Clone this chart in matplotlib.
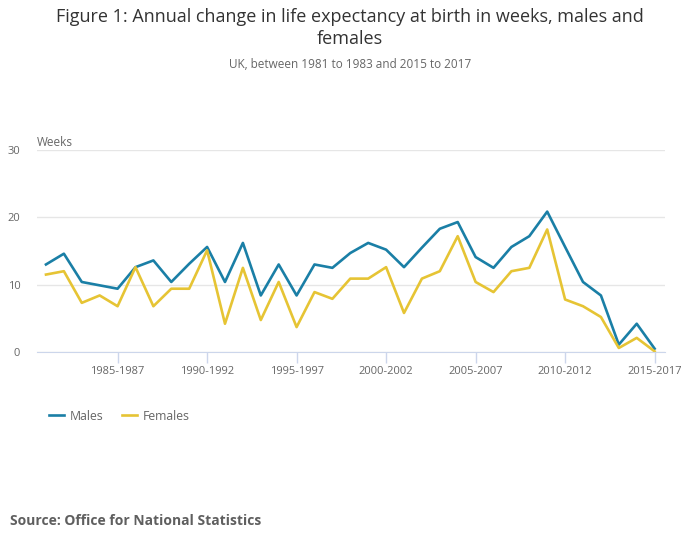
import matplotlib
matplotlib.use("Agg")
import matplotlib.pyplot as plt
import numpy as np

plt.rcParams['font.family'] = ['Open Sans', 'DejaVu Sans']

periods = [f"{y}-{y + 2}" for y in range(1981, 2016)]
males = [13.0, 14.6, 10.4, 9.9, 9.4, 12.6, 13.6, 10.4, 13.1, 15.6, 10.4, 16.2,
         8.4, 13.0, 8.4, 13.0, 12.5, 14.7, 16.2, 15.2, 12.6, 15.5, 18.3,
         19.3, 14.1, 12.5, 15.6, 17.2, 20.85, 15.6, 10.4, 8.4, 1.1, 4.2, 0.5]
females = [11.5, 12.0, 7.3, 8.4, 6.8, 12.6, 6.8, 9.4, 9.4, 15.1, 4.2, 12.5,
           4.75, 10.4, 3.7, 8.9, 7.9, 10.9, 10.9, 12.6, 5.8, 10.9, 12.0,
           17.2, 10.4, 8.9, 12.0, 12.5, 18.2, 7.8, 6.8, 5.2, 0.6, 2.1, 0.1]
tick_labels = ["1985-1987", "1990-1992", "1995-1997", "2000-2002", "2005-2007",
               "2010-2012", "2015-2017"]

male_colour = "#1a7fa6"
female_colour = "#e6c434"
grey = "#666666"

fig = plt.figure(figsize=(7, 5.49), dpi=100)
ax = fig.add_axes([0.0529, 0.3588, 0.8971, 0.368])

x = np.arange(len(periods))
ax.plot(x, males, color=male_colour, lw=1.9, label="Males")
ax.plot(x, females, color=female_colour, lw=1.9, label="Females")

ax.set_xlim(-0.5, len(periods) - 0.42)
ax.set_ylim(0, 30)
ax.set_yticks([0, 10, 20, 30])
ax.grid(axis="y", color="#e6e6e6", lw=1)
ax.set_axisbelow(True)

ticks = [periods.index(t) for t in tick_labels]
ax.set_xticks(ticks)
ax.set_xticklabels(tick_labels)
ax.tick_params(axis="x", colors="#ccd6eb", length=8, width=1, labelcolor=grey,
               labelsize=8, pad=2)
ax.tick_params(axis="y", length=0, labelcolor=grey, labelsize=8, pad=12)

for s in ["top", "right", "left"]:
    ax.spines[s].set_visible(False)
ax.spines["bottom"].set_color("#ccd6eb")

fig.text(37 / 700, 1 - 142 / 549, "Weeks", fontsize=8.5, color=grey, va="center")

fig.text(0.5, 1 - 17 / 549, "Figure 1: Annual change in life expectancy at birth in weeks, males and",
         ha="center", va="center", fontsize=13, color="#333333")
fig.text(0.5, 1 - 39 / 549, "females", ha="center", va="center", fontsize=13,
         color="#333333")
fig.text(0.5, 1 - 64 / 549, "UK, between 1981 to 1983 and 2015 to 2017", ha="center",
         va="center", fontsize=8.5, color=grey)

fig.legend(loc="center left", bbox_to_anchor=(38 / 700, 1 - 416 / 549), ncol=2,
           frameon=False, fontsize=8.8, labelcolor=grey, handlelength=1.2,
           columnspacing=1.5, handletextpad=0.5)

fig.text(10 / 700, 1 - 521 / 549, "Source: Office for National Statistics",
         fontsize=10, fontweight="bold", color="#5f5f5f", va="center")

fig.savefig("out.png", dpi=100)
